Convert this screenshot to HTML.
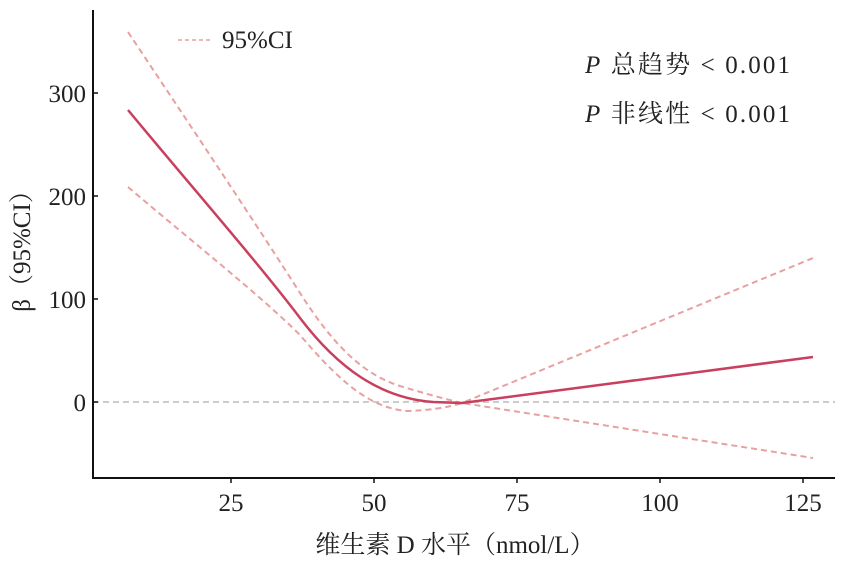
<!DOCTYPE html>
<html><head><meta charset="utf-8"><style>
html,body{margin:0;padding:0;background:#fff;}
svg text{font-family:"Liberation Serif","Noto Serif CJK SC",serif;fill:#222;}
</style></head><body>
<svg width="858" height="561" viewBox="0 0 858 561" xmlns="http://www.w3.org/2000/svg">
<line x1="93" y1="402" x2="835" y2="402" stroke="#bbb" stroke-width="1.5" stroke-dasharray="6,4"/>
<path d="M128,32 C 190,125 260,230 300,293 C 335,348 365,375 400,386 Q 440,398 462,403 L813,258" fill="none" stroke="#e8a0a0" stroke-width="2" stroke-dasharray="6,4"/>
<path d="M128,187 C 190,240 260,295 300,335 C 340,382 370,408 407,411 Q 440,410 462,403 L813,458" fill="none" stroke="#e8a0a0" stroke-width="2" stroke-dasharray="6,4"/>
<path d="M128,110 C 190,185 260,265 300,318 C 338,368 380,398 433,402 L462,403 L813,357" fill="none" stroke="#c8405e" stroke-width="2.5"/>
<line x1="93" y1="10" x2="93" y2="479" stroke="#111" stroke-width="2"/>
<line x1="92" y1="478" x2="835" y2="478" stroke="#111" stroke-width="2"/>
<g stroke="#111" stroke-width="1.5">
<line x1="93" y1="93" x2="98" y2="93"/><line x1="93" y1="196" x2="98" y2="196"/><line x1="93" y1="299" x2="98" y2="299"/><line x1="93" y1="402" x2="98" y2="402"/>
<line x1="231" y1="478" x2="231" y2="483"/><line x1="374" y1="478" x2="374" y2="483"/><line x1="517" y1="478" x2="517" y2="483"/><line x1="660" y1="478" x2="660" y2="483"/><line x1="803" y1="478" x2="803" y2="483"/>
</g>
<g font-size="25" text-anchor="end">
<text x="86" y="102">300</text><text x="86" y="205">200</text><text x="86" y="308">100</text><text x="86" y="411">0</text>
</g>
<g font-size="25" text-anchor="middle">
<text x="231" y="511">25</text><text x="374" y="511">50</text><text x="517" y="511">75</text><text x="660" y="511">100</text><text x="803" y="511">125</text>
</g>
<text x="455" y="553" font-size="25" text-anchor="middle">维生素 D 水平（nmol/L）</text>
<text transform="translate(30,245) rotate(-90)" font-size="25" text-anchor="middle">β（95%CI）</text>
<line x1="178" y1="40" x2="213" y2="40" stroke="#e8a0a0" stroke-width="1.5" stroke-dasharray="4,3"/>
<text x="222" y="48" font-size="25">95%CI</text>
<text x="585" y="73" font-size="25" textLength="205"><tspan font-style="italic">P</tspan> 总趋势 &lt; 0.001</text>
<text x="585" y="122" font-size="25" textLength="205"><tspan font-style="italic">P</tspan> 非线性 &lt; 0.001</text>
</svg>
</body></html>
